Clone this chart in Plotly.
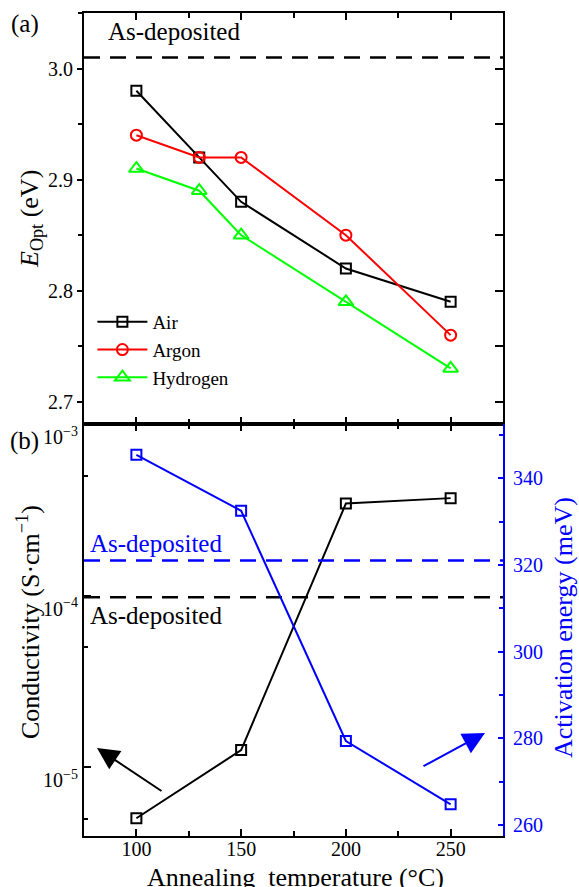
import plotly.graph_objects as go

# ---------------- data ----------------
temps_a = [100, 130, 150, 200, 250]
eopt_air = [2.98, 2.92, 2.88, 2.82, 2.79]
eopt_argon = [2.94, 2.92, 2.92, 2.85, 2.76]
eopt_hydrogen = [2.91, 2.89, 2.85, 2.79, 2.73]
eopt_asdep = 3.01

temps_b = [100, 150, 200, 250]
conductivity = [5.05e-6, 1.26e-5, 3.44e-4, 3.70e-4]
activation = [345.4, 332.5, 279.4, 264.8]
cond_asdep = 0.98e-4
act_asdep = 321.0

x_range = [75, 275]
x_ticks = [100, 150, 200, 250]
x_minor = [125, 175, 225]
eopt_ticks = [2.7, 2.8, 2.9, 3.0]
cond_ticks = [1e-5, 1e-4, 1e-3]
cond_ticktext = ["10<sup>\u22125</sup>", "10<sup>\u22124</sup>", "10<sup>\u22123</sup>"]
cond_minor = [5e-6, 5e-5, 5e-4]
act_ticks = [260, 280, 300, 320, 340]

FONT = "Liberation Serif"
BLUE = "#0000FF"
RED = "#FF0000"
GREEN = "#00FF00"

fig = go.Figure()

# ---- panel (a)
fig.add_trace(go.Scatter(x=temps_a, y=eopt_air, name="Air", mode="lines+markers",
                         line=dict(color="black", width=2),
                         marker=dict(symbol="square-open", size=10, color="black", line=dict(width=2)),
                         xaxis="x", yaxis="y"))
fig.add_trace(go.Scatter(x=temps_a, y=eopt_argon, name="Argon", mode="lines+markers",
                         line=dict(color=RED, width=2),
                         marker=dict(symbol="circle-open", size=11, color=RED, line=dict(width=2)),
                         xaxis="x", yaxis="y"))
fig.add_trace(go.Scatter(x=temps_a, y=eopt_hydrogen, name="Hydrogen", mode="lines+markers",
                         line=dict(color=GREEN, width=2),
                         marker=dict(symbol="triangle-up-open", size=13, color=GREEN, line=dict(width=2)),
                         xaxis="x", yaxis="y"))
fig.add_trace(go.Scatter(x=x_range, y=[eopt_asdep, eopt_asdep], mode="lines", showlegend=False,
                         line=dict(color="black", width=2.5, dash="16px,10px"),
                         xaxis="x", yaxis="y3", hoverinfo="skip"))

# ---- panel (b)
fig.add_trace(go.Scatter(x=temps_b, y=conductivity, mode="lines+markers", showlegend=False,
                         line=dict(color="black", width=2),
                         marker=dict(symbol="square-open", size=10, color="black", line=dict(width=2)),
                         xaxis="x2", yaxis="y2"))
fig.add_trace(go.Scatter(x=x_range, y=[cond_asdep, cond_asdep], mode="lines", showlegend=False,
                         line=dict(color="black", width=2.5, dash="16px,10px"),
                         xaxis="x2", yaxis="y2", hoverinfo="skip"))
fig.add_trace(go.Scatter(x=temps_b, y=activation, mode="lines+markers", showlegend=False,
                         line=dict(color=BLUE, width=2),
                         marker=dict(symbol="square-open", size=10, color=BLUE, line=dict(width=2)),
                         xaxis="x2", yaxis="y4"))
fig.add_trace(go.Scatter(x=x_range, y=[act_asdep, act_asdep], mode="lines", showlegend=False,
                         line=dict(color=BLUE, width=2.5, dash="16px,10px"),
                         xaxis="x2", yaxis="y4", hoverinfo="skip"))

split = 0.5006
tickfont = dict(family=FONT, size=20, color="black")

fig.update_layout(
    template="none",
    width=579, height=887,
    margin=dict(l=84, r=76, t=13, b=51, autoexpand=False),
    paper_bgcolor="white", plot_bgcolor="white",
    font=dict(family=FONT, size=20, color="black"),
    showlegend=True,
    legend=dict(x=0.02, y=(836 - 303) / 823, xanchor="left", yanchor="top",
                bgcolor="rgba(0,0,0,0)", borderwidth=0,
                font=dict(family=FONT, size=19), itemwidth=50, tracegroupgap=0),
    xaxis=dict(domain=[0, 1], anchor="y", range=x_range, tickvals=x_ticks, automargin=False,
               showticklabels=False, ticks="inside", ticklen=7, tickwidth=2, tickcolor="black",
               showline=True, linecolor="black", linewidth=2, mirror="ticks",
               showgrid=False, zeroline=False,
               minor=dict(tickvals=x_minor, ticks="inside", ticklen=5, tickwidth=2, tickcolor="black")),
    yaxis=dict(domain=[split, 1], anchor="x", range=[2.68, 3.05], tickvals=eopt_ticks, automargin=False,
               tickformat=".1f", ticks="outside", ticklen=5, tickwidth=2, tickcolor="black",
               showline=True, linecolor="black", linewidth=2, mirror=False,
               showgrid=False, zeroline=False, tickfont=tickfont,
               minor=dict(dtick=0.05, tick0=0, ticks="outside", ticklen=4, tickwidth=2, tickcolor="black")),
    yaxis3=dict(overlaying="y", side="right", anchor="x", range=[2.68, 3.05], automargin=False,
                dtick=0.05, tick0=0, ticks="inside", ticklen=8, tickwidth=2, tickcolor="black",
                showticklabels=False, showline=True, linecolor="black", linewidth=2,
                showgrid=False, zeroline=False),
    xaxis2=dict(domain=[0, 1], anchor="y2", range=x_range, tickvals=x_ticks, automargin=False,
                ticks="inside", ticklen=7, tickwidth=2, tickcolor="black",
                showline=True, linecolor="black", linewidth=2, mirror="ticks",
                showgrid=False, zeroline=False, tickfont=tickfont, ticklabelstandoff=-6,
                minor=dict(tickvals=x_minor, ticks="inside", ticklen=5, tickwidth=2, tickcolor="black")),
    yaxis2=dict(domain=[0, split], anchor="x2", type="log", range=[-5.4, -3.0], automargin=False,
                tickvals=cond_ticks, ticktext=cond_ticktext,
                ticks="inside", ticklen=7, tickwidth=2, tickcolor="black",
                showline=True, linecolor="black", linewidth=2,
                showgrid=False, zeroline=False, tickfont=tickfont, ticklabelshift=13,
                minor=dict(tickvals=cond_minor, ticks="inside", ticklen=4, tickwidth=2, tickcolor="black")),
    yaxis4=dict(overlaying="y2", side="right", anchor="x2", range=[257.5, 352.5], automargin=False,
                tickvals=act_ticks, ticks="inside", ticklen=5, tickwidth=2, tickcolor=BLUE,
                showline=True, linecolor=BLUE, linewidth=2,
                showgrid=False, zeroline=False,
                tickfont=dict(family=FONT, size=20, color=BLUE), ticklabelstandoff=4,
                minor=dict(dtick=10, tick0=0, ticks="inside", ticklen=4, tickwidth=2, tickcolor=BLUE)),
)

def px2x(p):
    return (p - 84) / 419

def py2y(p):
    return (836 - p) / 823

for txt, xc, yc in [("(a)", 25, 24), ("(b)", 25, 441)]:
    fig.add_annotation(text=txt, x=px2x(xc), y=py2y(yc), xref="paper", yref="paper",
                       showarrow=False, xanchor="center", yanchor="middle",
                       font=dict(family=FONT, size=25, color="black"))

for txt, xl, yc, col in [("As-deposited", 106, 31, "black"),
                         ("As-deposited", 88, 543, BLUE),
                         ("As-deposited", 88, 615, "black")]:
    fig.add_annotation(text=txt, x=px2x(xl), y=py2y(yc), xref="paper", yref="paper",
                       showarrow=False, xanchor="left", yanchor="middle",
                       font=dict(family=FONT, size=25, color=col))

# axis titles
fig.add_annotation(text="<i>E</i><sub>Opt</sub> (eV)", x=px2x(31), y=py2y(219),
                   xref="paper", yref="paper", showarrow=False, textangle=-90,
                   xanchor="center", yanchor="middle", font=dict(family=FONT, size=26))
fig.add_annotation(text="Conductivity (S\u00b7cm<sup>\u22121</sup>)", x=px2x(28), y=py2y(622),
                   xref="paper", yref="paper", showarrow=False, textangle=-90,
                   xanchor="center", yanchor="middle", font=dict(family=FONT, size=26))
fig.add_annotation(text="Activation energy (meV)", x=px2x(563), y=py2y(628),
                   xref="paper", yref="paper", showarrow=False, textangle=-90,
                   xanchor="center", yanchor="middle", font=dict(family=FONT, size=26, color=BLUE))
fig.add_annotation(text="Annealing  temperature (\u00b0C)", x=px2x(295), y=py2y(878),
                   xref="paper", yref="paper", showarrow=False,
                   xanchor="center", yanchor="middle", font=dict(family=FONT, size=26))

# arrows
fig.add_annotation(x=px2x(97), y=py2y(748), xref="paper", yref="paper", text="",
                   showarrow=True, ax=66, ay=44, arrowhead=2, arrowsize=2.2, arrowwidth=2,
                   arrowcolor="black")
fig.add_annotation(x=px2x(485), y=py2y(733), xref="paper", yref="paper", text="",
                   showarrow=True, ax=-63, ay=34, arrowhead=2, arrowsize=2.2, arrowwidth=2,
                   arrowcolor=BLUE)

fig.write_html("out.html", config={"displayModeBar": False},
               post_script="document.body.style.margin='0';")
